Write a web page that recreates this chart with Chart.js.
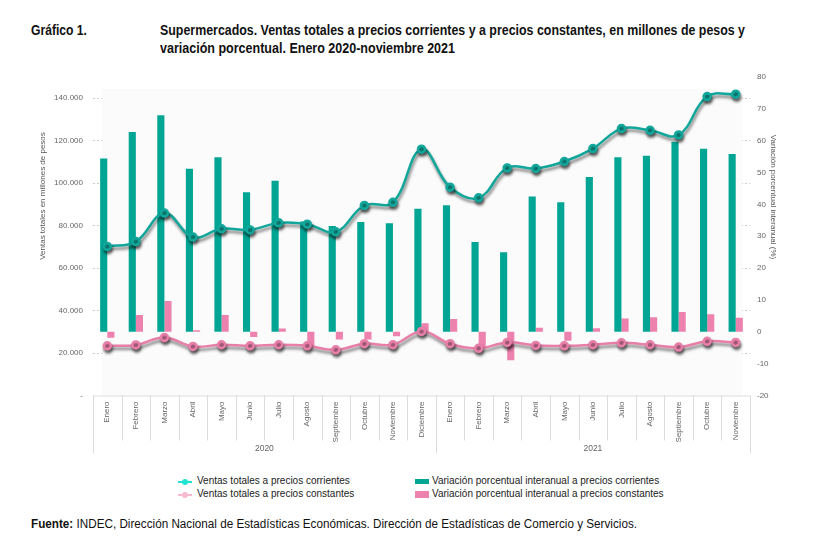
<!DOCTYPE html>
<html>
<head>
<meta charset="utf-8">
<script src="https://cdn.jsdelivr.net/npm/chart.js@4.4.1/dist/chart.umd.min.js"></script>
<style>
    body { margin: 0; width: 839px; height: 553px; background: #fff; position: relative; overflow: hidden; font-family: "Liberation Sans", Arial, sans-serif; }
    .fit { position: absolute; white-space: nowrap; transform-origin: 0 50%; }
    .hd { font-size: 15px; font-weight: bold; color: #111; }
    #chartBox { position: absolute; left: 0; top: 60px; }
    .leg { position: absolute; font-size: 10px; color: #222; white-space: nowrap; }
    .lineIcon { position: absolute; width: 14px; height: 2px; }
    .lineIcon span { position: absolute; left: 4px; top: -2px; width: 6px; height: 6px; border-radius: 50%; }
    .barIcon { position: absolute; width: 14px; }
    #foot { font-size: 12.5px; color: #111; }
</style>
</head>
<body>
<div class="fit hd" data-w="56" style="left:31px;top:21px">Gráfico 1.</div>
<div class="fit hd" data-w="585" style="left:160px;top:21px">Supermercados. Ventas totales a precios corrientes y a precios constantes, en millones de pesos y</div>
<div class="fit hd" data-w="295" style="left:160px;top:39px">variación porcentual. Enero 2020-noviembre 2021</div>
<div id="chartBox"><canvas id="chart" width="839" height="410"></canvas></div>

<div class="lineIcon" style="left:178px;top:481px;background:#22e3d0"><span style="background:#22e3d0"></span></div>
<div class="leg" style="left:197px;top:475px">Ventas totales a precios corrientes</div>
<div class="lineIcon" style="left:178px;top:494px;background:#f6b9cf"><span style="background:#f6b9cf"></span></div>
<div class="leg" style="left:197px;top:488px">Ventas totales a precios constantes</div>
<div class="barIcon" style="left:415px;top:479px;height:5px;background:#00a594"></div>
<div class="leg" style="left:432px;top:475px">Variación porcentual interanual a precios corrientes</div>
<div class="barIcon" style="left:415px;top:491px;height:7px;background:#ec82ad"></div>
<div class="leg" style="left:432px;top:488px">Variación porcentual interanual a precios constantes</div>

<div id="foot" class="fit" data-w="606" style="left:31px;top:517px"><b>Fuente:</b> INDEC, Dirección Nacional de Estadísticas Económicas. Dirección de Estadísticas de Comercio y Servicios.</div>

<script>
// squeeze the narrow headline / source texts to their widths
document.querySelectorAll('.fit').forEach(el => {
    const w = el.getBoundingClientRect().width;
    el.style.transform = 'scaleX(' + (Number(el.dataset.w) / w) + ')';
});

// Months on the category axis, grouped by year underneath
const months = ['Enero', 'Febrero', 'Marzo', 'Abril', 'Mayo', 'Junio', 'Julio', 'Agosto', 'Septiembre', 'Octubre', 'Noviembre', 'Diciembre',
    'Enero', 'Febrero', 'Marzo', 'Abril', 'Mayo', 'Junio', 'Julio', 'Agosto', 'Septiembre', 'Octubre', 'Noviembre'];
const years = ['2020', '2021'];
const monthsPerYear = [12, 11];

// Ventas totales, millones de pesos (left axis)
const ventasCorrientes = [70200, 72500, 85900, 74600, 78500, 78000, 81300, 80700, 77100, 89500, 91000, 116000,
    98100, 93100, 107200, 106900, 110200, 116300, 125700, 124900, 122700, 140800, 141900];
const ventasConstantes = [23400, 23800, 27300, 23100, 23900, 23400, 23900, 23400, 21500, 24400, 23900, 30200,
    24400, 22200, 25000, 23600, 23400, 23900, 24800, 23900, 22800, 25500, 25000];

// Variación porcentual interanual (right axis)
const varCorrientes = [54.4, 62.7, 68.0, 51.2, 54.8, 43.8, 47.4, 34.6, 33.2, 34.5, 34.1, 38.6,
    39.7, 28.2, 25.0, 42.5, 40.7, 48.6, 54.8, 55.3, 59.7, 57.5, 55.8];
const varConstantes = [-1.9, 5.3, 9.7, 0.5, 5.3, -1.6, 1.0, -5.0, -2.4, -2.4, -1.4, 2.7,
    4.0, -5.3, -8.9, 1.3, -2.8, 1.1, 4.2, 4.6, 6.2, 5.5, 4.4];

const leftTicks = [0, 20000, 40000, 60000, 80000, 100000, 120000, 140000];

const tickFont = { family: 'Liberation Sans, Arial, sans-serif', size: 8 };

function miles(v) {
    return String(v).replace(/\B(?=(\d{3})+(?!\d))/g, '.');
}

// shadow under the two lines
const lineShadow = {
    id: 'lineShadow',
    beforeDatasetDraw(chart, args) {
        if (args.meta.type !== 'line') return;
        const ctx = chart.ctx;
        ctx.save();
        ctx.shadowColor = 'rgba(0,0,0,0.5)';
        ctx.shadowBlur = 3;
        ctx.shadowOffsetX = 1;
        ctx.shadowOffsetY = 3;
    },
    afterDatasetDraw(chart, args) {
        if (args.meta.type !== 'line') return;
        chart.ctx.restore();
    }
};

// year boxes below the months, axis titles
const axisDecor = {
    id: 'axisDecor',
    beforeDatasetsDraw(chart) {
        const { ctx, chartArea } = chart;
        ctx.save();
        ctx.fillStyle = '#fbfbfb';
        ctx.fillRect(chartArea.left + 9, chartArea.top + 12, chartArea.width - 17, chartArea.height - 12);
        ctx.restore();
    },
    afterDraw(chart) {
        const { ctx, chartArea } = chart;
        const x = chart.scales.x;
        const b = chartArea.bottom;
        const half = (x.getPixelForValue(1) - x.getPixelForValue(0)) / 2;
        ctx.save();
        ctx.strokeStyle = '#dcdcdc';
        ctx.lineWidth = 1;
        ctx.beginPath();
        ctx.moveTo(chartArea.left, b + 0.5);
        ctx.lineTo(chartArea.right, b + 0.5);
        let start = 0;
        const bounds = [0];
        monthsPerYear.forEach(n => { start += n; bounds.push(start); });
        for (let i = 0; i <= months.length; i++) {
            const px = Math.round(x.getPixelForValue(i) - half) + 0.5;
            const long = bounds.includes(i);
            ctx.moveTo(px, b);
            ctx.lineTo(px, b + (long ? 58 : 45));
        }
        ctx.stroke();
        ctx.fillStyle = '#666';
        ctx.font = '8.5px Liberation Sans, Arial, sans-serif';
        ctx.textAlign = 'center';
        ctx.textBaseline = 'middle';
        years.forEach((y, k) => {
            const l = x.getPixelForValue(bounds[k]) - half;
            const r = x.getPixelForValue(bounds[k + 1]) - half;
            ctx.fillText(y, (l + r) / 2, b + 53);
        });
        ctx.font = '8px Liberation Sans, Arial, sans-serif';
        ctx.fillStyle = '#555';
        ctx.translate(43, 136);
        ctx.rotate(-Math.PI / 2);
        ctx.fillText('Ventas totales en millones de pesos', 0, 0);
        ctx.setTransform(1, 0, 0, 1, 0, 0);
        ctx.translate(773, 137);
        ctx.rotate(Math.PI / 2);
        ctx.fillText('Variación porcentual interanual (%)', 0, 0);
        ctx.restore();
    }
};

const ctx = document.getElementById('chart').getContext('2d');
const chart = new Chart(ctx, {
    type: 'bar',
    data: {
        labels: months,
        datasets: [
            {
                type: 'line',
                label: 'Ventas totales a precios corrientes',
                data: ventasCorrientes,
                yAxisID: 'yL',
                borderColor: '#12a79b',
                backgroundColor: '#12a79b',
                pointBackgroundColor: '#12a79b',
                borderWidth: 2.5,
                pointRadius: 3.5,
                tension: 0.4,
                order: 0
            },
            {
                type: 'line',
                label: 'Ventas totales a precios constantes',
                data: ventasConstantes,
                yAxisID: 'yL',
                borderColor: '#e77fa8',
                backgroundColor: '#e77fa8',
                pointBackgroundColor: '#e77fa8',
                borderWidth: 2.5,
                pointRadius: 3.5,
                tension: 0.4,
                order: 0
            },
            {
                label: 'Variación porcentual interanual a precios corrientes',
                data: varCorrientes,
                yAxisID: 'yR',
                backgroundColor: '#00a594',
                categoryPercentage: 0.5,
                barPercentage: 1.0,
                order: 1
            },
            {
                label: 'Variación porcentual interanual a precios constantes',
                data: varConstantes,
                yAxisID: 'yR',
                backgroundColor: '#ec82ad',
                categoryPercentage: 0.5,
                barPercentage: 1.0,
                order: 1
            }
        ]
    },
    options: {
        responsive: false,
        animation: false,
        layout: { padding: { top: 17, left: 0, right: 0, bottom: 0 } },
        plugins: {
            legend: { display: false },
            tooltip: { enabled: false }
        },
        scales: {
            x: {
                grid: { display: false, drawTicks: false },
                border: { display: false },
                ticks: {
                    font: tickFont,
                    color: '#666',
                    maxRotation: 90,
                    minRotation: 90,
                    autoSkip: false,
                    padding: 6
                },
                afterFit(s) { s.height = 74.5; }
            },
            yL: {
                position: 'left',
                min: 0,
                max: 150000,
                afterBuildTicks(s) { s.ticks = leftTicks.concat([150000]).map(v => ({ value: v })); },
                grid: {
                    drawTicks: false,
                    color: c => (c.tick && (c.tick.value === 0 || c.tick.value === 150000)) ? 'rgba(0,0,0,0)' : '#cccccc'
                },
                border: { display: false, dash: [2, 2] },
                ticks: {
                    font: tickFont,
                    color: '#666',
                    padding: 10,
                    callback: v => v === 0 ? '-' : (v === 150000 ? '' : miles(v))
                },
                afterFit(s) { s.width = 93; }
            },
            yR: {
                position: 'right',
                min: -20,
                max: 80,
                grid: { display: false, drawTicks: false },
                border: { display: false },
                ticks: {
                    font: tickFont,
                    color: '#666',
                    stepSize: 10,
                    padding: 7
                },
                afterFit(s) { s.width = 89; }
            }
        }
    },
    plugins: [lineShadow, axisDecor]
});
</script>
</body>
</html>
